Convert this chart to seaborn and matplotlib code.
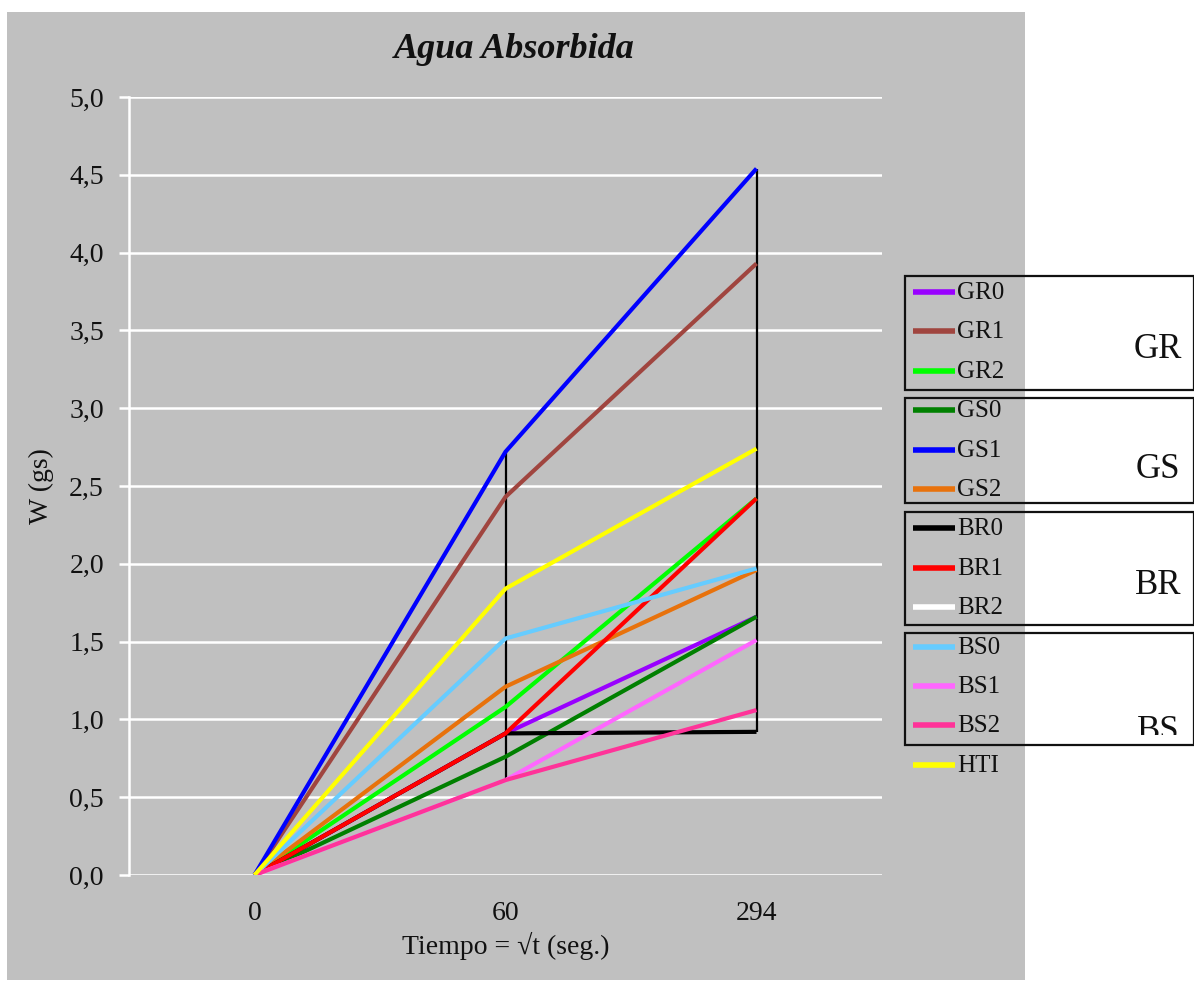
import numpy as np
import pandas as pd
import seaborn as sns
import matplotlib
matplotlib.use("Agg")
import matplotlib.pyplot as plt
from matplotlib.lines import Line2D
from matplotlib.patches import Rectangle

# ---- data ----
times = ["0", "60", "294"]
series = ["GR0", "GR1", "GR2", "GS0", "GS1", "GS2", "BR0", "BR1", "BR2",
          "BS0", "BS1", "BS2", "HTI"]
GR0 = [0.0, 0.91, 1.66]
GR1 = [0.0, 2.43, 3.93]
GR2 = [0.0, 1.08, 2.42]
GS0 = [0.0, 0.76, 1.66]
GS1 = [0.0, 2.72, 4.54]
GS2 = [0.0, 1.21, 1.96]
BR0 = [0.0, 0.91, 0.92]
BR1 = [0.0, 0.91, 2.42]
BR2 = [np.nan, np.nan, np.nan]
BS0 = [0.0, 1.52, 1.97]
BS1 = [0.0, 0.61, 1.51]
BS2 = [0.0, 0.61, 1.06]
HTI = [0.0, 1.84, 2.74]
values = [GR0, GR1, GR2, GS0, GS1, GS2, BR0, BR1, BR2, BS0, BS1, BS2, HTI]
groups = ["GR", "GS", "BR", "BS"]
yticks = [0.0, 0.5, 1.0, 1.5, 2.0, 2.5, 3.0, 3.5, 4.0, 4.5, 5.0]

colors = {"GR0": "#9900FF", "GR1": "#A0453F", "GR2": "#00FF00",
          "GS0": "#008000", "GS1": "#0000FF", "GS2": "#E8720C",
          "BR0": "#000000", "BR1": "#FF0000", "BR2": "#FFFFFF",
          "BS0": "#66CCFF", "BS1": "#FF66FF", "BS2": "#FF3399",
          "HTI": "#FFFF00"}

rows = []
for s, v in zip(series, values):
    for i, (t, y) in enumerate(zip(times, v)):
        rows.append({"serie": s, "pos": i, "W": y})
df = pd.DataFrame(rows)

sns.set_style("white")
plt.rcParams["font.family"] = ["Liberation Serif", "DejaVu Serif"]

W, H = 1194, 981
fig = plt.figure(figsize=(W / 100, H / 100), dpi=100)
fig.patch.set_facecolor("white")

def fx(x):
    return x / W

def fy(y):
    return 1 - y / H

GRAY = "#C0C0C0"
TXT = "#111111"
fig.add_artist(Rectangle((fx(7), fy(980)), fx(1025) - fx(7), fy(12) - fy(980),
                         transform=fig.transFigure, facecolor=GRAY,
                         edgecolor="none", zorder=0))

ax = fig.add_axes([fx(129), fy(875), fx(882) - fx(129), fy(97) - fy(875)])
ax.set_facecolor(GRAY)

# gridlines
for yv in yticks:
    ax.axhline(yv, color="white", lw=1.8, zorder=1)

# high-low lines
vals = np.array(values, dtype=float)
mins = np.nanmin(vals, axis=0)
maxs = np.nanmax(vals, axis=0)
ax.vlines(range(len(times)), mins, maxs, color="black", lw=1.6, zorder=2)

for s in series:
    sub = df[df.serie == s]
    if sub["W"].notna().any():
        sns.lineplot(data=sub, x="pos", y="W", color=colors[s], lw=3.0,
                     ax=ax, legend=False, zorder=3, solid_capstyle="butt")

ax.set_xlim(-0.5, 2.5)
ax.set_ylim(0, 5.0)
ax.set_xticks(range(len(times)))
ax.set_xticklabels(times)
ax.set_yticks(yticks)
ax.set_yticklabels([f"{v:.1f}".replace(".", ",") for v in yticks])
ax.tick_params(axis="x", length=0, labelsize=20, pad=19, colors=TXT)
ax.tick_params(axis="y", length=7, width=1.8, color="white", labelsize=20,
               pad=11, left=True, labelcolor=TXT)
for sp in ["top", "right", "bottom"]:
    ax.spines[sp].set_visible(False)
ax.spines["left"].set_color("white")
ax.spines["left"].set_linewidth(1.8)
ax.set_xlabel("Tiempo = \u221at (seg.)", fontsize=20, labelpad=4, color=TXT)
ax.set_ylabel("W (gs)", fontsize=20, labelpad=11, color=TXT)

fig.text(fx(514), fy(50), "Agua Absorbida", ha="center", va="center",
         fontsize=26, fontweight="bold", fontstyle="italic", color=TXT)

# ---- legend ----
row_y = [292 + 39.4 * i for i in range(len(series))]
for s, yy in zip(series, row_y):
    fig.add_artist(Line2D([fx(913), fx(955)], [fy(yy), fy(yy)],
                          transform=fig.transFigure, color=colors[s], lw=4,
                          solid_capstyle="butt"))
    fig.text(fx(957), fy(yy + 1), s, ha="left", va="center", fontsize=18,
             color=TXT)

box_tb = [(276, 390), (398, 503), (512, 625), (633, 745)]
clip_bottom = [390, 503, 625, 735]
label_y = [350, 470, 586, 731]
for g, (t, b), cb, ly in zip(groups, box_tb, clip_bottom, label_y):
    rect = Rectangle((fx(905), fy(b)), fx(1194) - fx(905), fy(t) - fy(b),
                     transform=fig.transFigure, facecolor="none",
                     edgecolor=TXT, lw=1.6, zorder=5)
    fig.add_artist(rect)
    txt = fig.text(fx(1158), fy(ly), g, ha="center", va="center",
                   fontsize=25, color=TXT)
    clip = Rectangle((fx(905), fy(cb)), fx(1194) - fx(905), fy(t) - fy(cb),
                     transform=fig.transFigure)
    txt.set_clip_path(clip)
    txt.set_clip_on(True)

fig.savefig("out.png", dpi=100)
